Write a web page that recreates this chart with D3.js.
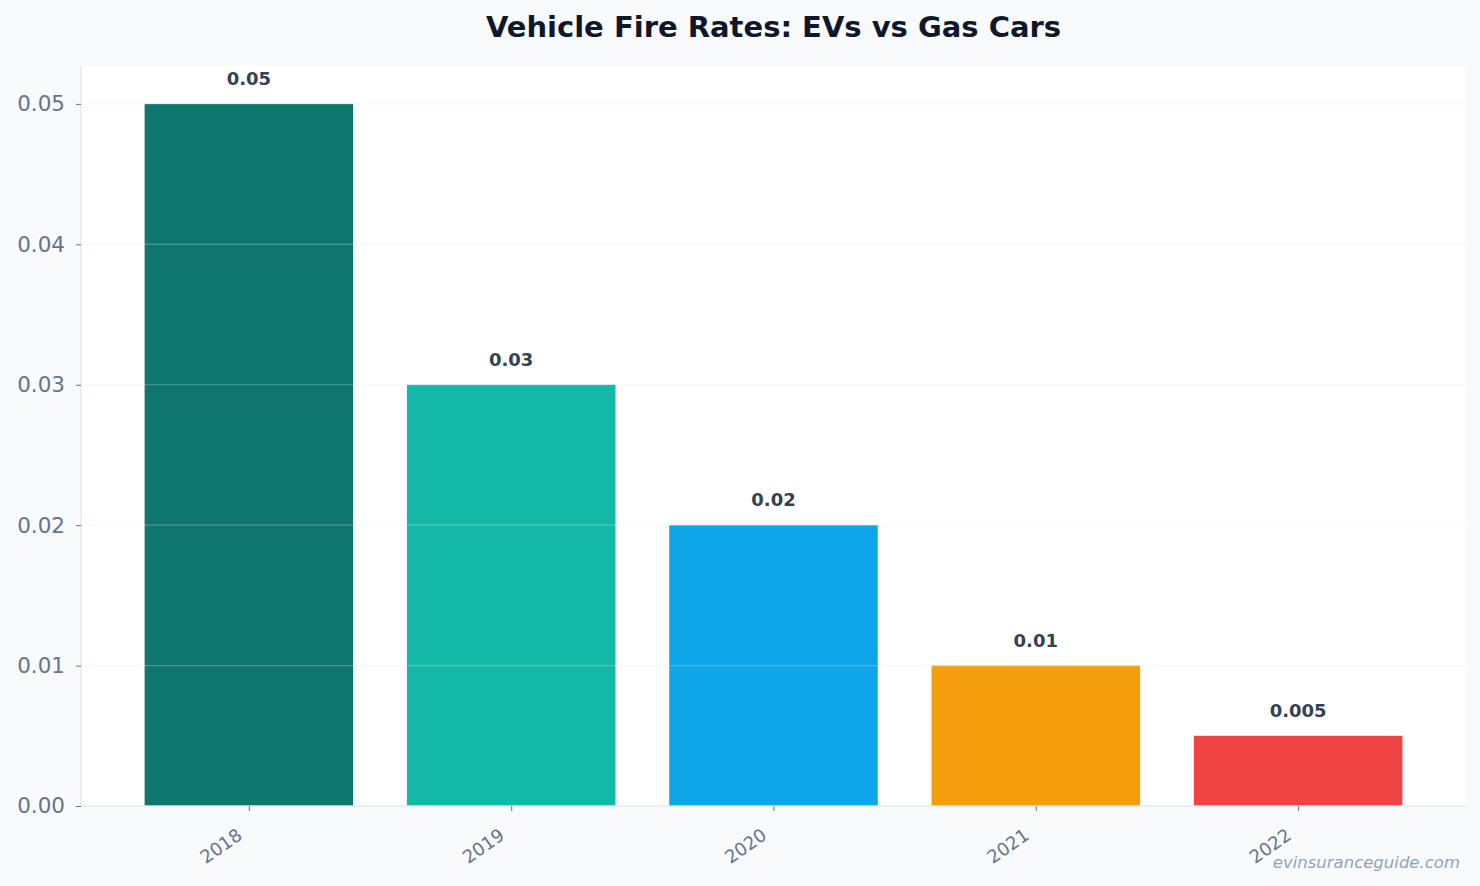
<!DOCTYPE html>
<html><head><meta charset="utf-8">
<script src="https://cdn.jsdelivr.net/npm/d3@7"></script>
<style>body{margin:0;background:#f8fafc;}svg{display:block;font-family:"DejaVu Sans",sans-serif;}</style>
</head><body>
<svg id="c" width="1480" height="886"></svg>
<script>
const categories = ["2018","2019","2020","2021","2022"];
const values = [0.05, 0.03, 0.02, 0.01, 0.005];
const valueLabels = ["0.05","0.03","0.02","0.01","0.005"];
const barColors = ["#0f766e","#14b8a6","#0ea5e9","#f59e0b","#ef4444"];
const yTicks = [0, 0.01, 0.02, 0.03, 0.04, 0.05];
const title = "Vehicle Fire Rates: EVs vs Gas Cars";
const watermark = "evinsuranceguide.com";

const svg = d3.select("#c");
const L = 81, R = 1466, T = 66, B = 806;
svg.append("rect").attr("width",1480).attr("height",886).attr("fill","#f8fafc");
svg.append("rect").attr("x",L).attr("y",T).attr("width",R-L).attr("height",B-T).attr("fill","#ffffff");

const x = d3.scaleLinear().domain([-0.64, categories.length - 1 + 0.64]).range([L, R]);
const y = d3.scaleLinear().domain([0, 0.0527]).range([B, T]);
const bw = 0.795;

svg.append("g").selectAll("rect").data(values).join("rect")
  .attr("x",(d,i)=>x(i-bw/2)).attr("width",(d,i)=>x(bw)-x(0))
  .attr("y",d=>y(d)).attr("height",d=>y(0)-y(d))
  .attr("fill",(d,i)=>barColors[i]);

// grid over bars
svg.append("g").selectAll("line").data(yTicks.filter(t=>t>0)).join("line")
  .attr("x1",L).attr("x2",R).attr("y1",d=>y(d)).attr("y2",d=>y(d))
  .attr("stroke","#e2e8f0").attr("stroke-opacity",0.3).attr("stroke-width",1.2);

// value labels
svg.append("g").selectAll("text").data(values).join("text")
  .attr("x",(d,i)=>x(i)).attr("y",d=>y(d)-19)
  .attr("text-anchor","middle").attr("font-size",18).attr("font-weight","bold")
  .attr("fill","#334155").text((d,i)=>valueLabels[i]);

// y axis
const ya = svg.append("g").attr("transform",`translate(${L},0)`)
  .call(d3.axisLeft(y).tickValues(yTicks).tickFormat(d3.format(".2f")).tickSize(5).tickPadding(11));
ya.select(".domain").attr("stroke","#e2e8f0").attr("stroke-width",1.5).attr("d",`M0,${T}V${B}`);
ya.selectAll(".tick line").attr("stroke","#64748b");
ya.selectAll(".tick text").attr("font-size",21.5).attr("fill","#64748b").attr("font-family","DejaVu Sans");

// x axis
const xa = svg.append("g").attr("transform",`translate(0,${B})`)
  .call(d3.axisBottom(x).tickValues(d3.range(categories.length)).tickFormat(i=>categories[i]).tickSize(5).tickPadding(6));
xa.select(".domain").attr("stroke","#e2e8f0").attr("stroke-width",1.5).attr("d",`M${L},0H${R}`);
xa.selectAll(".tick line").attr("stroke","#64748b");
xa.selectAll(".tick text").attr("font-size",18).attr("fill","#64748b").attr("font-family","DejaVu Sans")
  .attr("text-anchor","end").attr("x",0).attr("y",0).attr("dy",0).attr("transform","translate(-6,32) rotate(-35)");

svg.append("text").attr("x",(L+R)/2).attr("y",37).attr("text-anchor","middle")
  .attr("font-size",29).attr("font-weight","bold").attr("fill","#0f172a").text(title);

svg.append("text").attr("x",1460).attr("y",868).attr("text-anchor","end")
  .attr("font-size",16.5).attr("font-style","italic").attr("fill","#94a3b8").text(watermark);
</script>
</body></html>
